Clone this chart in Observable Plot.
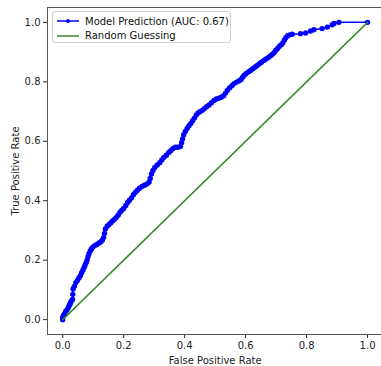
<!DOCTYPE html>
<html>
<head>
<meta charset="utf-8">
<script src="https://cdn.jsdelivr.net/npm/d3@7"></script>
<script src="https://cdn.jsdelivr.net/npm/@observablehq/plot@0.6"></script>
<style>
  html, body { margin: 0; padding: 0; background: #fff; overflow: hidden; }
  #wrap { position: relative; width: 381px; height: 366px; overflow: hidden; }
  #chart { width: 383px; }
  #chart svg { max-width: none !important; }
  #legend { position: absolute; left: 52px; top: 11px; width: 179px; height: 32px;
    border: 1px solid #d0d0d0; border-radius: 3px; background: rgba(255,255,255,0.85);
    font-family: "DejaVu Sans", sans-serif; font-size: 10px; color: #111; box-sizing: border-box; }
  .item { position: absolute; left: 4px; height: 14px; display: flex; align-items: center; white-space: nowrap; }
  .item svg { margin-right: 6px; }
</style>
</head>
<body>
<div id="wrap">
  <div id="chart"></div>
  <div id="legend"></div>
</div>
<script>
// False positive rate (x) and true positive rate (y)
const fpr = [0.000,0.000,0.003,0.006,0.010,0.014,0.018,0.021,0.024,0.026,0.029,0.032,0.033,0.034,0.038,0.043,0.048,0.053,0.058,0.062,0.066,0.070,0.073,0.077,0.080,0.083,0.086,0.090,0.094,0.099,0.105,0.112,0.119,0.125,0.130,0.134,0.137,0.140,0.146,0.152,0.158,0.164,0.170,0.176,0.182,0.188,0.194,0.200,0.207,0.213,0.219,0.226,0.232,0.238,0.245,0.252,0.260,0.268,0.276,0.283,0.287,0.291,0.296,0.302,0.310,0.318,0.325,0.332,0.340,0.348,0.355,0.362,0.370,0.378,0.386,0.390,0.393,0.397,0.402,0.408,0.414,0.420,0.426,0.432,0.438,0.444,0.451,0.458,0.465,0.472,0.480,0.488,0.496,0.504,0.512,0.520,0.528,0.534,0.540,0.547,0.555,0.562,0.570,0.578,0.585,0.590,0.595,0.602,0.610,0.617,0.624,0.631,0.638,0.645,0.652,0.660,0.667,0.675,0.682,0.688,0.694,0.699,0.705,0.711,0.717,0.722,0.727,0.732,0.738,0.745,0.753,0.780,0.797,0.813,0.824,0.851,0.868,0.884,0.890,0.906,1.000];
const tpr = [0.000,0.008,0.015,0.020,0.028,0.033,0.040,0.047,0.053,0.058,0.064,0.068,0.085,0.103,0.112,0.124,0.132,0.140,0.148,0.158,0.166,0.175,0.183,0.192,0.201,0.212,0.222,0.231,0.238,0.244,0.249,0.253,0.258,0.262,0.268,0.276,0.290,0.305,0.314,0.320,0.326,0.333,0.338,0.344,0.352,0.361,0.368,0.374,0.384,0.394,0.402,0.410,0.420,0.428,0.435,0.442,0.448,0.452,0.456,0.462,0.475,0.490,0.502,0.512,0.520,0.528,0.537,0.546,0.553,0.562,0.569,0.576,0.580,0.580,0.582,0.595,0.608,0.622,0.633,0.643,0.652,0.660,0.669,0.678,0.688,0.695,0.700,0.704,0.710,0.716,0.722,0.730,0.737,0.742,0.745,0.748,0.753,0.762,0.771,0.779,0.787,0.794,0.799,0.803,0.808,0.815,0.822,0.828,0.834,0.839,0.844,0.850,0.855,0.861,0.866,0.872,0.877,0.882,0.888,0.893,0.899,0.906,0.912,0.920,0.925,0.931,0.940,0.948,0.955,0.958,0.960,0.962,0.964,0.971,0.975,0.979,0.984,0.992,0.996,1.000,1.000];
const randomX = [0, 1];
const randomY = [0, 1];
const tickValues = [0.0, 0.2, 0.4, 0.6, 0.8, 1.0];
const seriesNames = ["Model Prediction (AUC: 0.67)", "Random Guessing"];
const seriesColors = ["#0000ff", "#3a8a2e"];

const roc = fpr.map((x, i) => ({x, y: tpr[i]}));
const diag = randomX.map((x, i) => ({x, y: randomY[i]}));

const chart = Plot.plot({
  width: 383,
  height: 366,
  marginLeft: 47,
  marginRight: 0.7,
  marginTop: 7,
  marginBottom: 32,
  style: {fontFamily: "DejaVu Sans, sans-serif", fontSize: "10px", color: "#222", background: "#fff"},
  x: {domain: [-0.05, 1.05]},
  y: {domain: [-0.05, 1.05]},
  marks: [
    Plot.axisX({ticks: tickValues, tickFormat: d3.format(".1f"), tickSize: 4, tickPadding: 3,
      label: "False Positive Rate", labelAnchor: "center", labelArrow: "none", labelOffset: 29}),
    Plot.axisY({ticks: tickValues, tickFormat: d3.format(".1f"), tickSize: 4, tickPadding: 3,
      label: "True Positive Rate", labelAnchor: "center", labelArrow: "none", labelOffset: 36}),
    Plot.line(roc, {x: "x", y: "y", stroke: seriesColors[0], strokeWidth: 1.5}),
    Plot.dot(roc, {x: "x", y: "y", r: 2.7, fill: seriesColors[0], stroke: null}),
    Plot.line(diag, {x: "x", y: "y", stroke: seriesColors[1], strokeWidth: 1.5}),
    Plot.frame({stroke: "#555", strokeWidth: 1})
  ]
});
document.getElementById("chart").appendChild(chart);

const legend = document.getElementById("legend");
seriesNames.forEach((name, i) => {
  const item = document.createElement("div");
  item.className = "item";
  item.style.top = (2 + i * 14.5) + "px";
  const dot = i === 0 ? `<circle cx="11" cy="5" r="2" fill="${seriesColors[i]}"/>` : "";
  item.innerHTML = `<svg width="22" height="10"><line x1="0" y1="5" x2="22" y2="5" stroke="${seriesColors[i]}" stroke-width="1.5"/>${dot}</svg><span>${name}</span>`;
  legend.appendChild(item);
});
</script>
</body>
</html>
